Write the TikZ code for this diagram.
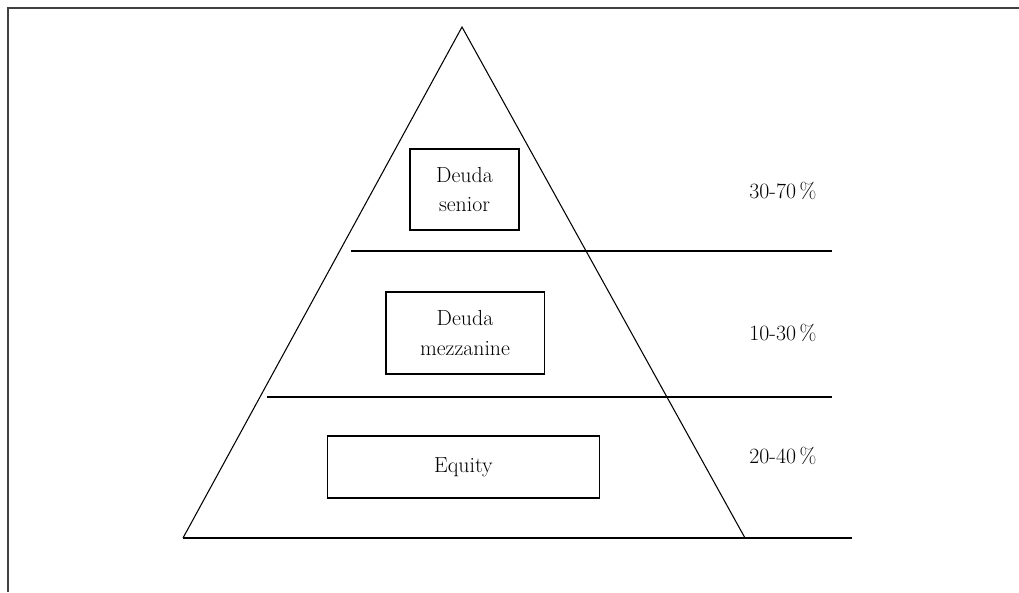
\documentclass[tikz,border=0pt]{standalone}
\usepackage{tikz}

\tikzset{
  layer/.style={draw,align=center,inner sep=0pt,font=\fontsize{15.5}{21}\selectfont},
  share/.style={font=\fontsize{15.5}{18}\selectfont},
}

\begin{document}
\begin{tikzpicture}[x=0.025cm,y=-0.025cm,line width=0.75pt]
\useasboundingbox (0,0) rectangle (1019,592);
% frame
\draw[line width=1.2pt,black!75] (8,592) -- (8,8) -- (1019,8);
% pyramid
\coordinate (apex) at (462,27);
\coordinate (bl) at (183,538);
\coordinate (br) at (745,538);
\draw (bl) -- (apex) -- (br);
\coordinate (base end) at (852,538);
\draw (bl) -- (base end);
\coordinate (cut1 l) at (351,251);
\coordinate (cut1 r) at (832,251);
\coordinate (cut2 l) at (267,397);
\coordinate (cut2 r) at (832,397);
\draw (cut1 l) -- (cut1 r);
\draw (cut2 l) -- (cut2 r);
% tranches
\node[layer,minimum width=2.725cm,minimum height=2.025cm] (senior) at (464.5,189.5) {Deuda\\senior};
\node[layer,minimum width=3.95cm,minimum height=2.05cm] (mezz) at (465,333) {Deuda\\mezzanine};
\node[layer,minimum width=6.775cm,minimum height=1.55cm] (equity) at (463.5,467) {Equity};
% shares
\node[share] (p senior) at (783,191) {30-70\,\%};
\node[share] (p mezz) at (783,333) {10-30\,\%};
\node[share] (p equity) at (783,456) {20-40\,\%};
\end{tikzpicture}
\end{document}
